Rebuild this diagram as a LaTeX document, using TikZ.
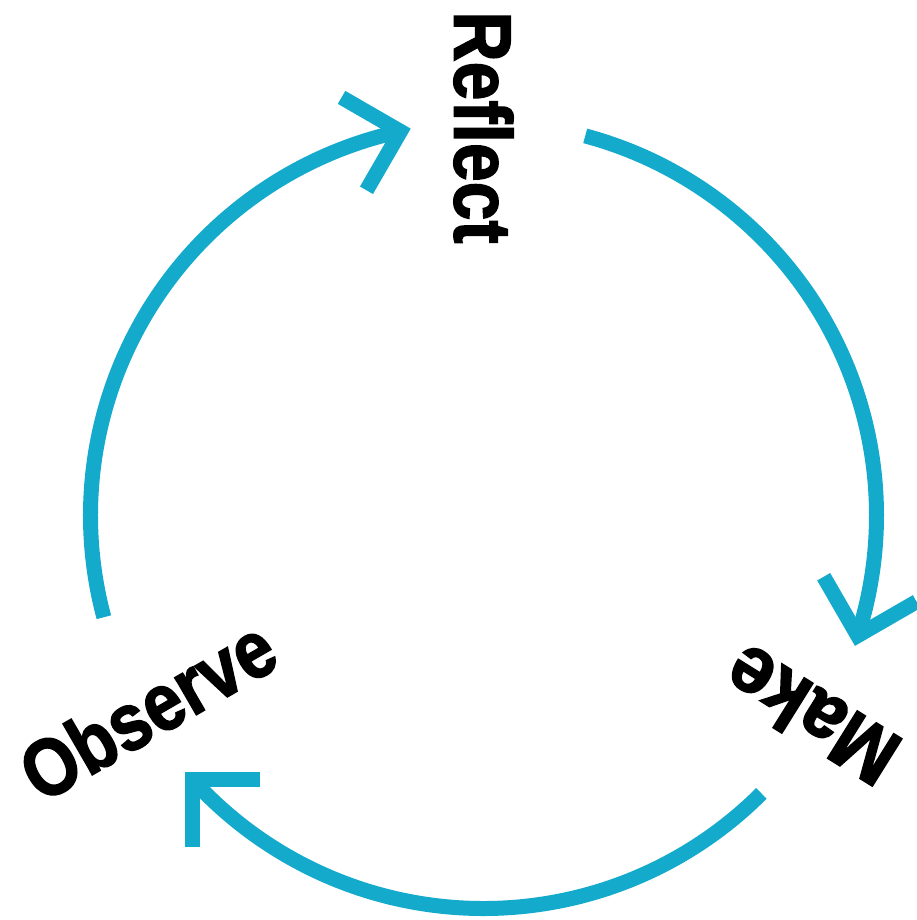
\documentclass[tikz,border=0pt]{standalone}
\usepackage{fontspec}
\usepackage{graphicx}
\setmainfont{Liberation Sans}
\newfontfamily\heavyfont[FakeBold=2]{Liberation Sans Bold}
\usetikzlibrary{calc}
\definecolor{cyc}{RGB}{20,170,204}
\begin{document}
\begin{tikzpicture}[x=1pt,y=1pt,
  arcline/.style={draw=cyc, line width=15pt, line cap=butt},
  chev/.style={draw=cyc, line width=15pt, line cap=butt, line join=miter, miter limit=10},
  lbl/.style={font=\fontsize{81}{81}\heavyfont, inner sep=0pt, text=black}]
\useasboundingbox (0,0) rectangle (916,-920);
\coordinate (C) at (483.5,-515.5);
% labels
\node[lbl, rotate=-90] (reflect) at ($(C)+(90:388)$) {\scalebox{0.86}[1]{Reflect}};
\node[lbl, rotate=148] (make) at ($(C)+(-31.5:384)$) {\scalebox{0.93}[1]{Make}};
\node[lbl, rotate=30] (observe) at ($(C)+(210:388)$) {\scalebox{0.86}[1]{Observe}};
% arc endpoints
\coordinate (s1) at ($(C)+(195:393)$);
\coordinate (v1) at ($(C)+(102.2:393)$);
\coordinate (s2) at ($(C)+(75:393)$);
\coordinate (v2) at ($(C)+(-17.8:393)$);
\coordinate (s3) at ($(C)+(-45:393)$);
\coordinate (v3) at ($(C)+(-137.8:393)$);
% arcs
\draw[arcline] (s1) arc[start angle=195, end angle=102.2, radius=393];
\draw[arcline] (s2) arc[start angle=75, end angle=-17.8, radius=393];
\draw[arcline] (s3) arc[start angle=-45, end angle=-137.8, radius=393];
% chevrons
\draw[chev] ($(v1)+(240:68)$) -- (v1) -- ($(v1)+(150:68)$);
\draw[chev] ($(v2)+(120:68)$) -- (v2) -- ($(v2)+(30:68)$);
\draw[chev] ($(v3)+(0:68)$) -- (v3) -- ($(v3)+(-90:68)$);
\end{tikzpicture}
\end{document}
